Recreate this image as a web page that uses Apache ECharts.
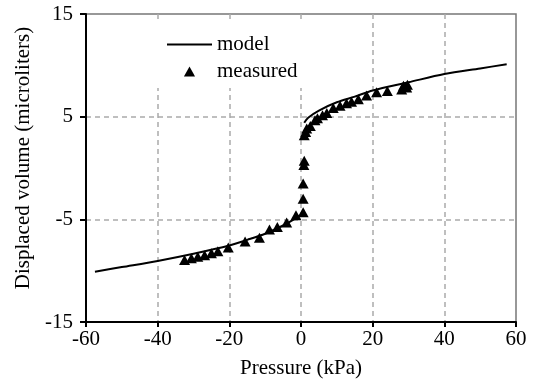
<!DOCTYPE html>
<html>
<head>
<meta charset="utf-8">
<script src="https://cdn.jsdelivr.net/npm/echarts@6/dist/echarts.min.js"></script>
<style>
  html, body { margin: 0; padding: 0; background: #fff; }
  #chart { width: 537px; height: 387px; }
</style>
</head>
<body>
<div id="chart"></div>
<script>
// model curve, two branches split by a null at the jump
const modelX = [-57.5, -50, -40, -30, -20, -15, -10, -5, -2, -0.3, null, 0.9, 2, 5, 10, 15, 20, 30, 40, 50, 57.4];
const modelY = [-10.1, -9.65, -9.05, -8.35, -7.55, -7.0, -6.4, -5.6, -5.0, -4.6, null, 4.4, 4.9, 5.6, 6.4, 6.95, 7.55, 8.35, 9.15, 9.7, 10.1];

// measured points
const measuredX = [-32.5, -30.6, -28.8, -26.9, -25.0, -23.2, -20.3, -15.6, -11.6, -8.8, -6.6, -4.0, -1.4,
  0.6, 0.6, 0.6, 0.8, 0.9, 0.9, 1.3, 1.6, 2.6, 3.9, 4.6, 6.0, 7.2, 9.0, 10.9, 12.7, 14.1, 16.0, 18.3, 21.1, 24.1, 28.1, 28.6, 29.5, 29.7];
const measuredY = [-8.95, -8.8, -8.65, -8.5, -8.3, -8.1, -7.75, -7.15, -6.8, -6.0, -5.75, -5.3, -4.6,
  -4.3, -3.0, -1.5, 0.3, 0.7, 3.2, 3.5, 3.85, 4.1, 4.65, 4.85, 5.15, 5.35, 5.85, 6.07, 6.3, 6.46, 6.7, 7.05, 7.37, 7.5, 7.65, 8.0, 7.85, 8.1];

const xTicks = [-60, -40, -20, 0, 20, 40, 60];
const yTicks = [-15, -5, 5, 15];

const font = 'Liberation Serif';
const triIcon = 'path://M5,0L10,9L0,9Z';

const chart = echarts.init(document.getElementById('chart'));
chart.setOption({
  backgroundColor: '#fff',
  animation: false,
  grid: { left: 86, right: 21, top: 14, bottom: 65, show: true, borderColor: '#777', borderWidth: 1.5 },
  legend: {
    orient: 'vertical',
    left: 150,
    top: 23,
    itemWidth: 45,
    itemHeight: 10,
    itemGap: 6,
    padding: [11, 8, 6, 16],
    backgroundColor: '#fff',
    symbolKeepAspect: true,
    textStyle: { fontFamily: font, fontSize: 21, color: '#000' },
    data: [
      { name: 'model', itemStyle: { opacity: 0 }, lineStyle: { color: '#000', width: 2 } },
      { name: 'measured', icon: triIcon, itemStyle: { color: '#000', opacity: 1 } },
    ],
  },
  xAxis: {
    type: 'value',
    min: xTicks[0],
    max: xTicks[xTicks.length - 1],
    interval: 20,
    name: 'Pressure (kPa)',
    nameLocation: 'middle',
    nameGap: 36,
    nameTextStyle: { fontFamily: font, fontSize: 21, color: '#000' },
    axisLine: { onZero: false, lineStyle: { color: '#000', width: 2 } },
    axisTick: { show: true, inside: false, length: 5, lineStyle: { color: '#000', width: 2 } },
    axisLabel: { fontFamily: font, fontSize: 21, color: '#000', margin: 7 },
    splitLine: { show: true, showMinLine: false, showMaxLine: false, lineStyle: { color: '#aaa', type: [5, 4], width: 1.5 } },
  },
  yAxis: {
    type: 'value',
    min: yTicks[0],
    max: yTicks[yTicks.length - 1],
    interval: 10,
    name: 'Displaced volume (microliters)',
    nameLocation: 'middle',
    nameGap: 51,
    nameTextStyle: { fontFamily: font, fontSize: 21, color: '#000', padding: [0, 0, 0, 20] },
    axisLine: { onZero: false, lineStyle: { color: '#000', width: 2 } },
    axisTick: { show: true, inside: false, length: 6, lineStyle: { color: '#000', width: 2 } },
    axisLabel: { fontFamily: font, fontSize: 21, color: '#000', margin: 13 },
    splitLine: { show: true, showMinLine: false, showMaxLine: false, lineStyle: { color: '#aaa', type: [5, 4], width: 1.5 } },
  },
  series: [
    {
      name: 'model',
      type: 'line',
      data: modelX.map((x, i) => [x, modelY[i]]),
      smooth: 0.3,
      connectNulls: false,
      symbol: 'none',
      lineStyle: { color: '#000', width: 2 },
      itemStyle: { color: '#000' },
    },
    {
      name: 'measured',
      type: 'scatter',
      data: measuredX.map((x, i) => [x, measuredY[i]]),
      symbol: triIcon,
      symbolSize: [11, 10],
      itemStyle: { color: '#000', opacity: 1 },
    },
  ],
});
</script>
</body>
</html>
